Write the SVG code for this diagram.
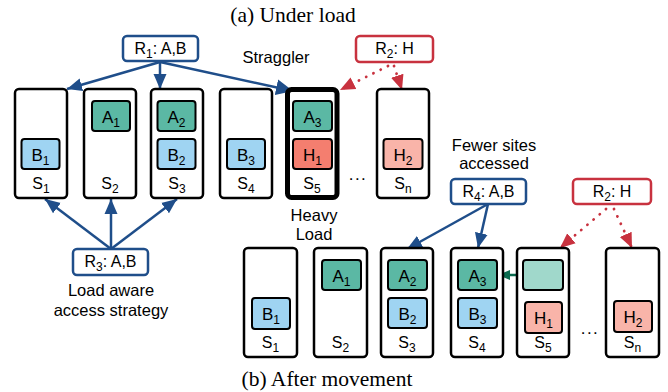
<svg xmlns="http://www.w3.org/2000/svg" width="668" height="392" viewBox="0 0 668 392">
<style>
.srv{fill:#fff;stroke:#000;stroke-width:2.5}
.thick{fill:#fff;stroke:#000;stroke-width:5}
.ia{fill:#5bb8a4;stroke:#000;stroke-width:2}
.ib{fill:#9fd4f2;stroke:#000;stroke-width:2}
.ih{fill:#f47e6f;stroke:#000;stroke-width:2}
.ihl{fill:#f9b4a9;stroke:#000;stroke-width:2}
.ial{fill:#a0d8cb;stroke:#000;stroke-width:2}
.rb{fill:#fff;stroke:#1f4e8a;stroke-width:2.5}
.rr{fill:#fff;stroke:#c8323f;stroke-width:2.5}
text{font-family:"Liberation Sans",Arial,sans-serif;fill:#000}
.t{font-size:17px;text-anchor:middle}
.s{font-size:16px;text-anchor:middle}
.l{font-size:16.5px;text-anchor:middle}
.dots{font-size:17px;text-anchor:middle;letter-spacing:1.5px}
.sub{font-size:12px}
.cap{font-family:"Liberation Serif","Times New Roman",serif;font-size:21.5px;text-anchor:middle}
.bl{stroke:#1f4e8a;stroke-width:2.5;fill:none}
.rd{stroke:#c8323f;stroke-width:2.8;fill:none;stroke-dasharray:0.1 8;stroke-linecap:round}
.gr{stroke:#0b6b4f;stroke-width:2.5;fill:none}
</style>
<defs>
<marker id="mb" markerUnits="userSpaceOnUse" markerWidth="16" markerHeight="16" viewBox="0 0 16 16" refX="15" refY="8" orient="auto"><path d="M0,1.5 L15,8 L0,14.5 Z" fill="#1f4e8a"/></marker>
<marker id="mbt" markerUnits="userSpaceOnUse" markerWidth="18" markerHeight="18" viewBox="0 0 18 18" refX="17" refY="9" orient="auto"><path d="M0,1 L17,9 L0,17 Z" fill="#1f4e8a"/></marker>
<marker id="mr" markerUnits="userSpaceOnUse" markerWidth="16" markerHeight="16" viewBox="0 0 16 16" refX="15" refY="8" orient="auto"><path d="M0,1.5 L15,8 L0,14.5 Z" fill="#c8323f"/></marker>
<marker id="mg" markerUnits="userSpaceOnUse" markerWidth="13" markerHeight="13" viewBox="0 0 13 13" refX="12" refY="6.5" orient="auto"><path d="M0,1.5 L12,6.5 L0,11.5 Z" fill="#0b6b4f"/></marker>
</defs>
<rect width="668" height="392" fill="#fff"/>

<text class="cap" x="293" y="22">(a) Under load</text>
<text class="cap" x="327" y="386">(b) After movement</text>

<g id="connectors">
<line class="bl" x1="160" y1="62" x2="67" y2="89" marker-end="url(#mb)"/>
<line class="bl" x1="160" y1="62" x2="160" y2="89" marker-end="url(#mb)"/>
<line class="bl" x1="160" y1="62" x2="293" y2="91" stroke-width="5" marker-end="url(#mbt)"/>
<line class="rd" x1="388" y1="66" x2="340" y2="90" marker-end="url(#mr)"/>
<line class="rd" x1="394" y1="66" x2="402" y2="90" marker-end="url(#mr)"/>
<line class="bl" x1="111" y1="249" x2="45" y2="199" marker-end="url(#mb)"/>
<line class="bl" x1="111" y1="249" x2="111" y2="199" marker-end="url(#mb)"/>
<line class="bl" x1="111" y1="249" x2="177" y2="199" marker-end="url(#mb)"/>
<line class="bl" x1="488" y1="204" x2="407" y2="249" marker-end="url(#mb)"/>
<line class="bl" x1="488" y1="204" x2="478" y2="248" marker-end="url(#mb)"/>
<line class="rd" x1="606" y1="209" x2="560" y2="248" marker-end="url(#mr)"/>
<line class="rd" x1="614" y1="209" x2="632" y2="248" marker-end="url(#mr)"/>
<line class="gr" x1="522" y1="275" x2="498" y2="275" marker-end="url(#mg)"/>
</g>

<g id="R1"><rect class="rb" x="123" y="36" width="75" height="25" rx="4"/><text class="s" x="160.5" y="54">R<tspan class="sub" dy="4">1</tspan><tspan dy="-4">: A,B</tspan></text></g>
<g id="R2a"><rect class="rr" x="356" y="36" width="77" height="26" rx="4"/><text class="s" x="394.5" y="54">R<tspan class="sub" dy="4">2</tspan><tspan dy="-4">: H</tspan></text></g>
<g id="R3"><rect class="rb" x="73" y="249" width="75" height="26" rx="4"/><text class="s" x="110.5" y="267">R<tspan class="sub" dy="4">3</tspan><tspan dy="-4">: A,B</tspan></text></g>
<g id="R4"><rect class="rb" x="451" y="179" width="75" height="25" rx="4"/><text class="s" x="488.5" y="197">R<tspan class="sub" dy="4">4</tspan><tspan dy="-4">: A,B</tspan></text></g>
<g id="R2b"><rect class="rr" x="573" y="179" width="78" height="25" rx="4"/><text class="s" x="612" y="197">R<tspan class="sub" dy="4">2</tspan><tspan dy="-4">: H</tspan></text></g>

<g id="labels">
<text class="l" x="276" y="63">Straggler</text>
<text class="l" x="314" y="221">Heavy</text>
<text class="l" x="314" y="240">Load</text>
<text class="l" x="494" y="151">Fewer sites</text>
<text class="l" x="494" y="169">accessed</text>
<text class="l" x="111" y="296">Load aware</text>
<text class="l" x="111" y="316">access strategy</text>
<text class="dots" x="358" y="180">...</text>
<text class="dots" x="590" y="334">...</text>
</g>

<g id="a-S1"><rect class="srv" x="15" y="89" width="52" height="109" rx="4"/><rect class="ib" x="21.5" y="139" width="38" height="30" rx="3"/><text class="t" x="40.5" y="161">B<tspan class="sub" dy="4">1</tspan></text><text class="s" x="41" y="189">S<tspan class="sub" dy="4">1</tspan></text></g>
<g id="a-S2"><rect class="srv" x="84" y="89" width="52" height="109" rx="4"/><rect class="ia" x="92" y="101" width="38" height="30" rx="3"/><text class="t" x="111" y="123">A<tspan class="sub" dy="4">1</tspan></text><text class="s" x="110" y="189">S<tspan class="sub" dy="4">2</tspan></text></g>
<g id="a-S3"><rect class="srv" x="151" y="89" width="52" height="109" rx="4"/><rect class="ia" x="157.5" y="101" width="38" height="30" rx="3"/><text class="t" x="176.5" y="123">A<tspan class="sub" dy="4">2</tspan></text><rect class="ib" x="157.5" y="139" width="38" height="30" rx="3"/><text class="t" x="176.5" y="161">B<tspan class="sub" dy="4">2</tspan></text><text class="s" x="177" y="189">S<tspan class="sub" dy="4">3</tspan></text></g>
<g id="a-S4"><rect class="srv" x="220" y="89" width="52" height="109" rx="4"/><rect class="ib" x="227" y="139" width="38" height="30" rx="3"/><text class="t" x="246" y="161">B<tspan class="sub" dy="4">3</tspan></text><text class="s" x="246" y="189">S<tspan class="sub" dy="4">4</tspan></text></g>
<g id="a-S5"><rect class="thick" x="287.5" y="89.5" width="49.5" height="108" rx="4"/><rect class="ia" x="293" y="101" width="39" height="30" rx="3"/><text class="t" x="312.5" y="123">A<tspan class="sub" dy="4">3</tspan></text><rect class="ih" x="293" y="139" width="39" height="30" rx="3"/><text class="t" x="312.5" y="161">H<tspan class="sub" dy="4">1</tspan></text><text class="s" x="312" y="189">S<tspan class="sub" dy="4">5</tspan></text></g>
<g id="a-Sn"><rect class="srv" x="377" y="89" width="52" height="109" rx="4"/><rect class="ihl" x="383.5" y="139" width="39" height="30" rx="3"/><text class="t" x="403" y="161">H<tspan class="sub" dy="4">2</tspan></text><text class="s" x="403" y="189">S<tspan class="sub" dy="4">n</tspan></text></g>

<g id="b-S1"><rect class="srv" x="244" y="248" width="53" height="109" rx="4"/><rect class="ib" x="252" y="298" width="38" height="31" rx="3"/><text class="t" x="271" y="320">B<tspan class="sub" dy="4">1</tspan></text><text class="s" x="270.5" y="348">S<tspan class="sub" dy="4">1</tspan></text></g>
<g id="b-S2"><rect class="srv" x="314" y="248" width="53" height="109" rx="4"/><rect class="ia" x="322" y="260" width="39" height="30" rx="3"/><text class="t" x="341.5" y="282">A<tspan class="sub" dy="4">1</tspan></text><text class="s" x="340.5" y="348">S<tspan class="sub" dy="4">2</tspan></text></g>
<g id="b-S3"><rect class="srv" x="381" y="248" width="52" height="109" rx="4"/><rect class="ia" x="388" y="260" width="39" height="30" rx="3"/><text class="t" x="407.5" y="282">A<tspan class="sub" dy="4">2</tspan></text><rect class="ib" x="388" y="298" width="39" height="30" rx="3"/><text class="t" x="407.5" y="320">B<tspan class="sub" dy="4">2</tspan></text><text class="s" x="407" y="348">S<tspan class="sub" dy="4">3</tspan></text></g>
<g id="b-S4"><rect class="srv" x="451" y="248" width="52" height="109" rx="4"/><rect class="ia" x="458" y="260" width="39" height="30" rx="3"/><text class="t" x="477.5" y="282">A<tspan class="sub" dy="4">3</tspan></text><rect class="ib" x="458" y="298" width="39" height="30" rx="3"/><text class="t" x="477.5" y="320">B<tspan class="sub" dy="4">3</tspan></text><text class="s" x="477" y="348">S<tspan class="sub" dy="4">4</tspan></text></g>
<g id="b-S5"><rect class="srv" x="517" y="248" width="52" height="109" rx="4"/><rect class="ial" x="523" y="260" width="40" height="30" rx="3"/><rect class="ihl" x="525" y="302" width="37" height="31" rx="3"/><text class="t" x="543.5" y="324">H<tspan class="sub" dy="4">1</tspan></text><text class="s" x="543" y="348">S<tspan class="sub" dy="4">5</tspan></text></g>
<g id="b-Sn"><rect class="srv" x="606" y="248" width="53" height="109" rx="4"/><rect class="ihl" x="614" y="301" width="38" height="31" rx="3"/><text class="t" x="633" y="323">H<tspan class="sub" dy="4">2</tspan></text><text class="s" x="632.5" y="348">S<tspan class="sub" dy="4">n</tspan></text></g>
</svg>
